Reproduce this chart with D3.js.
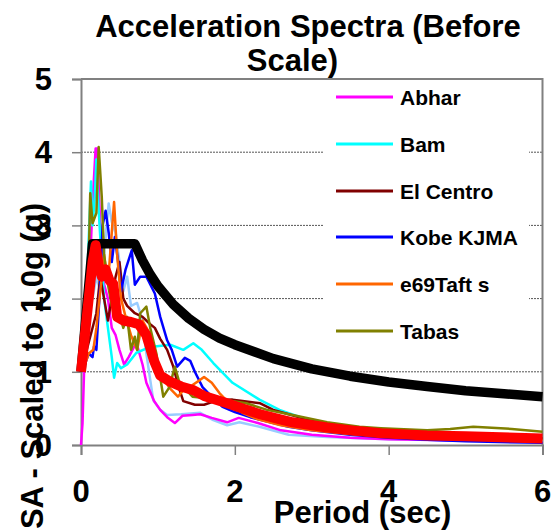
<!DOCTYPE html>
<html>
<head>
<meta charset="utf-8">
<script src="https://cdn.jsdelivr.net/npm/d3@7"></script>
<style>
  html, body { margin: 0; padding: 0; background: #fff; }
  svg { display: block; font-family: "Liberation Sans", Arial, sans-serif; }
</style>
</head>
<body>
<svg id="chart" width="552" height="531"></svg>
<script>
// ---- data (period in sec, spectral acceleration in g) ----
const yTicks = [0, 1, 2, 3, 4, 5];
const xTicks = [0, 2, 4, 6];
const legendNames = ["Abhar", "Bam", "El Centro", "Kobe KJMA", "e69Taft s", "Tabas"];
const legendColors = ["#FF00FF", "#00FFFF", "#800000", "#0000FF", "#FF6600", "#808000"];

const abhar = [[0,0],[0.02,0.3],[0.04,1.0],[0.1,2.0],[0.15,3.3],[0.19,4.05],[0.21,4.05],[0.25,3.0],[0.3,2.2],[0.35,2.0],[0.4,1.6],[0.45,1.5],[0.5,1.3],[0.56,1.1],[0.62,1.2],[0.72,1.4],[0.8,1.1],[0.85,0.85],[0.95,0.6],[1.03,0.48],[1.12,0.38],[1.22,0.3],[1.32,0.4],[1.45,0.41],[1.55,0.42],[1.7,0.37],[1.9,0.31],[2.05,0.37],[2.3,0.3],[2.6,0.2],[3,0.14],[3.5,0.1],[4,0.08],[5,0.06],[6,0.05]];
const bam = [[0,1.0],[0.05,1.5],[0.1,2.8],[0.13,3.6],[0.15,3.0],[0.18,3.4],[0.2,3.9],[0.23,3.2],[0.27,2.5],[0.3,2.0],[0.35,1.6],[0.4,1.2],[0.43,0.92],[0.47,1.12],[0.52,1.05],[0.6,1.1],[0.72,1.26],[0.9,1.34],[1.16,1.37],[1.33,1.3],[1.46,1.39],[1.57,1.3],[1.72,1.12],[1.97,0.85],[2.32,0.62],[2.58,0.48],[2.85,0.38],[3.2,0.28],[3.6,0.2],[4,0.15],[4.5,0.11],[5,0.09],[6,0.06]];
const elCentro = [[0,1.0],[0.1,1.4],[0.2,1.8],[0.25,2.3],[0.3,2.0],[0.35,1.7],[0.4,2.0],[0.45,2.3],[0.5,2.5],[0.55,2.0],[0.6,1.9],[0.7,1.8],[0.8,1.75],[0.9,1.65],[0.96,1.6],[1.03,1.45],[1.12,1.3],[1.2,1.07],[1.27,0.79],[1.33,0.6],[1.48,0.55],[1.6,0.55],[1.77,0.61],[1.97,0.62],[2.1,0.6],[2.33,0.57],[2.5,0.48],[2.7,0.42],[3.0,0.33],[3.5,0.24],[4,0.18],[4.5,0.14],[5,0.12],[6,0.09]];
const kobe = [[0,1.0],[0.05,1.1],[0.1,1.25],[0.15,1.2],[0.17,1.35],[0.2,1.3],[0.25,2.2],[0.28,3.0],[0.32,3.2],[0.36,2.9],[0.4,2.5],[0.44,2.84],[0.48,2.53],[0.52,2.1],[0.58,2.4],[0.66,2.66],[0.7,2.19],[0.77,2.3],[0.85,2.3],[0.96,2.07],[1.03,1.75],[1.12,1.43],[1.18,1.3],[1.25,1.07],[1.35,1.19],[1.42,1.15],[1.48,1.0],[1.58,0.79],[1.68,0.68],[1.84,0.52],[2.0,0.45],[2.2,0.38],[2.5,0.3],[2.7,0.25],[3.0,0.2],[3.5,0.14],[4,0.1],[4.5,0.07],[5,0.05],[6,0.03]];
const taft = [[0,1.0],[0.05,1.1],[0.1,1.25],[0.16,1.3],[0.2,1.6],[0.25,2.1],[0.3,2.6],[0.35,2.2],[0.4,2.9],[0.43,3.32],[0.47,2.6],[0.52,2.0],[0.58,1.75],[0.65,1.5],[0.73,1.3],[0.8,1.7],[0.88,1.55],[0.95,1.25],[1.05,0.95],[1.15,0.78],[1.26,0.66],[1.33,0.75],[1.45,0.82],[1.55,0.89],[1.6,0.93],[1.7,0.85],[1.8,0.71],[1.9,0.6],[2.1,0.44],[2.3,0.35],[2.6,0.27],[3,0.2],[3.5,0.15],[4,0.12],[4.5,0.1],[5,0.08],[6,0.07]];
const tabas = [[0,1.0],[0.05,1.3],[0.1,2.5],[0.12,3.44],[0.15,3.03],[0.2,3.17],[0.23,4.07],[0.27,3.39],[0.3,2.6],[0.35,2.2],[0.4,1.9],[0.45,2.1],[0.5,1.8],[0.55,1.6],[0.6,1.75],[0.65,1.3],[0.7,1.48],[0.73,1.3],[0.77,1.8],[0.85,1.89],[0.9,1.6],[0.98,1.25],[1.07,0.66],[1.15,0.79],[1.22,1.07],[1.28,0.85],[1.45,0.66],[1.9,0.61],[2.15,0.57],[2.42,0.48],[2.75,0.41],[3.2,0.31],[3.62,0.25],[3.9,0.23],[4.5,0.2],[4.8,0.22],[5.1,0.25],[5.6,0.22],[6,0.18]];
const lightBlue = [[0,1.0],[0.05,1.4],[0.1,1.9],[0.15,2.0],[0.2,2.3],[0.25,2.1],[0.3,2.6],[0.36,3.3],[0.4,3.05],[0.45,2.9],[0.5,2.5],[0.55,2.1],[0.6,2.3],[0.65,1.9],[0.73,1.94],[0.8,1.7],[0.85,1.25],[0.9,0.89],[0.94,0.61],[1.03,0.48],[1.12,0.41],[1.3,0.42],[1.55,0.44],[1.72,0.34],[1.9,0.27],[2.06,0.31],[2.32,0.25],[2.7,0.14],[3.2,0.11],[4,0.08],[5,0.06],[6,0.05]];
const mean = [[0,1.0],[0.05,1.5],[0.1,2.0],[0.15,2.5],[0.19,2.73],[0.23,2.45],[0.27,2.3],[0.32,2.4],[0.37,2.25],[0.42,2.2],[0.47,1.75],[0.55,1.7],[0.65,1.68],[0.75,1.65],[0.85,1.5],[0.95,1.15],[1.03,0.95],[1.15,0.87],[1.3,0.8],[1.46,0.75],[1.6,0.67],[1.9,0.57],[2.1,0.5],[2.33,0.42],[2.55,0.36],[2.75,0.31],[3.2,0.24],[3.6,0.19],[3.9,0.16],[4.5,0.13],[5,0.12],[6,0.09]];
const design = [[0,1.0],[0.15,2.75],[0.7,2.75],[0.8,2.52],[0.9,2.33],[1.0,2.17],[1.2,1.92],[1.4,1.73],[1.6,1.58],[1.8,1.46],[2.0,1.37],[2.5,1.18],[3.0,1.04],[3.5,0.94],[4.0,0.86],[4.5,0.80],[5.0,0.74],[5.5,0.70],[6.0,0.66]];

// ---- layout ----
const svg = d3.select("#chart");
const x = d3.scaleLinear().domain([0, 6]).range([81, 542.5]);
const y = d3.scaleLinear().domain([0, 5]).range([445, 79]);
const axisColor = "#808080";
const bold = 700;

// plot background
svg.append("rect").attr("x", x(0)).attr("y", y(5)).attr("width", x(6) - x(0)).attr("height", y(0) - y(5)).attr("fill", "#fff");

// gridlines
svg.append("g").selectAll("line").data(yTicks.filter(d => d > 0 && d < 5)).join("line")
  .attr("x1", x(0)).attr("x2", x(6)).attr("y1", d => y(d)).attr("y2", d => y(d))
  .attr("stroke", "#555").attr("stroke-width", 1).attr("stroke-dasharray", "2,1");

// axes
const yAxis = d3.axisLeft(y).tickValues(yTicks).tickSize(9).tickFormat("");
const xAxis = d3.axisBottom(x).tickValues(xTicks).tickSize(10).tickFormat("");
const gy = svg.append("g").attr("transform", `translate(${x(0)},0)`).call(yAxis);
const gx = svg.append("g").attr("transform", `translate(0,${y(0)})`).call(xAxis);
[gx, gy].forEach(g => {
  g.select(".domain").attr("stroke", axisColor).attr("stroke-width", 2);
  g.selectAll(".tick line").attr("stroke", axisColor).attr("stroke-width", 1.5);
});
// top & right frame
svg.append("path").attr("d", `M${x(0)},${y(5)}H${x(6)}V${y(0)}`)
  .attr("fill", "none").attr("stroke", axisColor).attr("stroke-width", 2);

// tick labels
svg.append("g").selectAll("text").data(yTicks).join("text")
  .attr("x", 52).attr("y", d => y(d) + 11).attr("text-anchor", "end")
  .attr("font-size", 31).attr("font-weight", bold).text(d => d);
svg.append("g").selectAll("text").data(xTicks).join("text")
  .attr("x", d => x(d)).attr("y", 502).attr("text-anchor", "middle")
  .attr("font-size", 31).attr("font-weight", bold).text(d => d);

// series lines
const line = d3.line().x(d => x(d[0])).y(d => y(d[1]));
const thin = [
  [lightBlue, "#99CCFF"], [abhar, "#FF00FF"], [bam, "#00FFFF"], [elCentro, "#800000"],
  [kobe, "#0000FF"], [taft, "#FF6600"], [tabas, "#808000"]
];
const gSeries = svg.append("g");
thin.forEach(([data, color]) => {
  gSeries.append("path").datum(data).attr("d", line)
    .attr("fill", "none").attr("stroke", color).attr("stroke-width", 2.5).attr("stroke-linejoin", "round");
});
gSeries.append("path").datum(design).attr("d", line)
  .attr("fill", "none").attr("stroke", "#000").attr("stroke-width", 9.5).attr("stroke-linejoin", "round");
gSeries.append("path").datum(mean).attr("d", line)
  .attr("fill", "none").attr("stroke", "#FF0000").attr("stroke-width", 10).attr("stroke-linejoin", "round");

// legend
const lg = svg.append("g");
lg.append("rect").attr("x", 324).attr("y", 81).attr("width", 205).attr("height", 270).attr("fill", "#fff");
const rowY = [97, 144, 191, 237, 284, 331];
legendNames.forEach((name, i) => {
  lg.append("line").attr("x1", 336).attr("x2", 393).attr("y1", rowY[i]).attr("y2", rowY[i])
    .attr("stroke", legendColors[i]).attr("stroke-width", 3);
  lg.append("text").attr("x", 400).attr("y", rowY[i] + 7.5)
    .attr("font-size", 21).attr("font-weight", bold).text(name);
});

// titles
svg.append("text").attr("x", 308).attr("y", 37).attr("text-anchor", "middle")
  .attr("font-size", 31).attr("font-weight", bold).text("Acceleration Spectra (Before");
svg.append("text").attr("x", 292.5).attr("y", 71).attr("text-anchor", "middle")
  .attr("font-size", 31).attr("font-weight", bold).text("Scale)");
svg.append("text").attr("x", 362.5).attr("y", 523).attr("text-anchor", "middle")
  .attr("font-size", 31).attr("font-weight", bold).text("Period (sec)");
svg.append("text").attr("transform", "translate(43,366) rotate(-90)").attr("text-anchor", "middle")
  .attr("font-size", 31).attr("font-weight", bold).text("SA - Scaled to 1.0g (g)");
</script>
</body>
</html>
